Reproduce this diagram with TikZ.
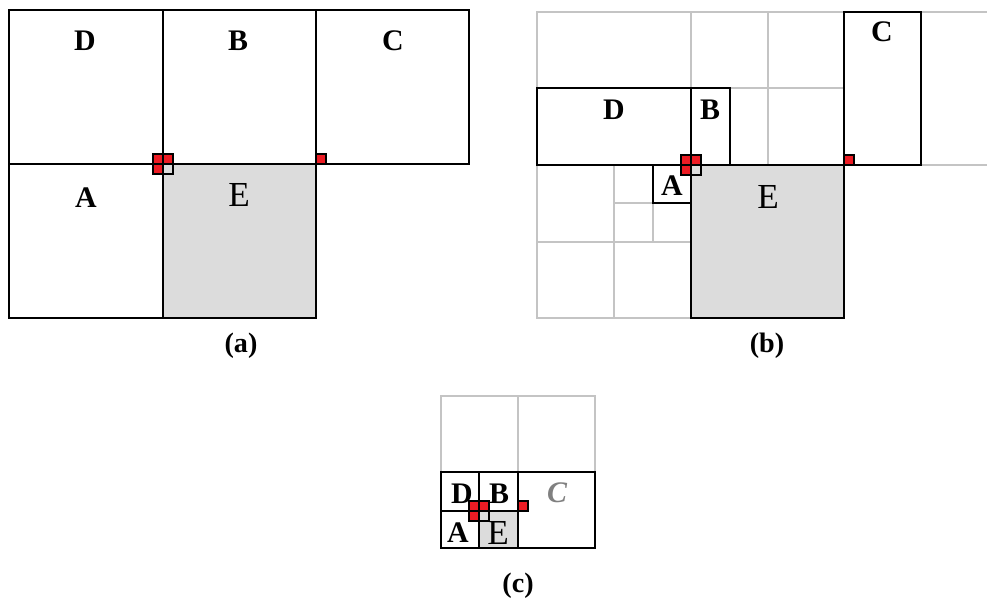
\documentclass[tikz,border=0pt]{standalone}
\usepackage{xcolor}
\usepackage{fontspec}
\setmainfont{Liberation Serif}
\usepackage{tikz}
\usetikzlibrary{positioning}

\definecolor{markred}{RGB}{237,28,36}
\definecolor{cellgray}{RGB}{220,220,220}
\definecolor{gridgray}{RGB}{196,196,196}

\tikzset{
    cell/.style={draw=black, line width=1.1pt},
    gridline/.style={draw=gridgray, line width=1.1pt},
    query/.style={cell, fill=cellgray},
    lbl/.style={font=\fontsize{17}{17}\selectfont\bfseries, inner sep=0pt},
    qlbl/.style={font=\fontsize{20}{20}\selectfont, inner sep=0pt},
    panelcap/.style={font=\fontsize{16}{16}\selectfont\bfseries, inner sep=0pt},
    redcell/.style={draw=black, line width=0.8pt, fill=markred},
    graycell/.style={draw=black, line width=0.8pt, fill=cellgray},
    % 2x2 marker on a shared corner
    corner quad/.pic={
        \draw[redcell] (-10,-10) rectangle (0,0);
        \draw[redcell] (0,-10) rectangle (10,0);
        \draw[redcell] (-10,0) rectangle (0,10);
        \draw[graycell] (0,0) rectangle (10,10);
    },
    % single marker on a corner
    corner single/.pic={
        \draw[redcell] (0,-10) rectangle (10,0);
    }
}

\begin{document}
\begin{tikzpicture}[x=0.02cm, y=-0.02cm]
    \useasboundingbox (0,0) rectangle (987,599);

    % Panel (a): equal cells
    \begin{scope}[shift={(9,10)}]
        \fill[cellgray] (154,154) rectangle (307,308);
        \draw[cell] (0,0) rectangle (460,154);
        \draw[cell] (0,154) rectangle (307,308);
        \draw[cell] (154,0) -- (154,308);
        \draw[cell] (307,0) -- (307,154);

        \node[lbl] (aD) at (76,31) {D};
        \node[lbl] (aB) at (229,31) {B};
        \node[lbl] (aC) at (384,31) {C};
        \node[lbl] (aA) at (77,188) {A};
        \node[qlbl] (aE) at (230,185) {E};

        \pic at (154,154) {corner quad};
        \pic at (307,154) {corner single};

        \node[panelcap] (capa) at (232,336) {(a)};
    \end{scope}

    % Panel (b): refined cells
    \begin{scope}[shift={(537,12)}]
        % background subdivision
        \draw[gridline] (450,0) -- (0,0) -- (0,306) -- (154,306);
        \draw[gridline] (384,153) -- (450,153);
        \draw[gridline] (154,0) -- (154,76);
        \draw[gridline] (231,0) -- (231,153);
        \draw[gridline] (193,76) -- (307,76);
        \draw[gridline] (77,153) -- (77,306);
        \draw[gridline] (0,230) -- (154,230);
        \draw[gridline] (116,191) -- (116,230);
        \draw[gridline] (77,191) -- (116,191);

        % leaf cells
        \draw[query] (154,153) rectangle (307,306);
        \draw[cell] (0,76) rectangle (154,153);
        \draw[cell] (154,76) rectangle (193,153);
        \draw[cell] (307,0) rectangle (384,153);
        \draw[cell] (116,153) rectangle (154,191);

        \node[lbl] (bD) at (77,98) {D};
        \node[lbl] (bB) at (173,98) {B};
        \node[lbl] (bC) at (345,20) {C};
        \node[lbl] (bA) at (135,174) {A};
        \node[qlbl] (bE) at (231,185) {E};

        \pic at (154,153) {corner quad};
        \pic at (307,153) {corner single};

        \node[panelcap] (capb) at (230,334) {(b)};
    \end{scope}

    % Panel (c): coarse cells
    \begin{scope}[shift={(441,396)}]
        \draw[gridline] (0,76) -- (0,0) -- (154,0) -- (154,76);
        \draw[gridline] (77,0) -- (77,76);

        \fill[cellgray] (38,115) rectangle (77,152);
        \draw[cell] (0,76) rectangle (154,152);
        \draw[cell] (38,76) -- (38,152);
        \draw[cell] (77,76) -- (77,152);
        \draw[cell] (0,115) -- (77,115);

        \node[lbl] (cD) at (21,98) {D};
        \node[lbl] (cB) at (58,98) {B};
        \node[lbl, text=gray, font=\fontsize{17}{17}\selectfont\bfseries\itshape] (cC) at (116,97) {C};
        \node[lbl] (cA) at (17,137) {A};
        \node[qlbl] (cE) at (57,137) {E};

        \pic at (38,115) {corner quad};
        \pic at (77,115) {corner single};

        \node[panelcap] (capc) at (77,190) {(c)};
    \end{scope}
\end{tikzpicture}
\end{document}
